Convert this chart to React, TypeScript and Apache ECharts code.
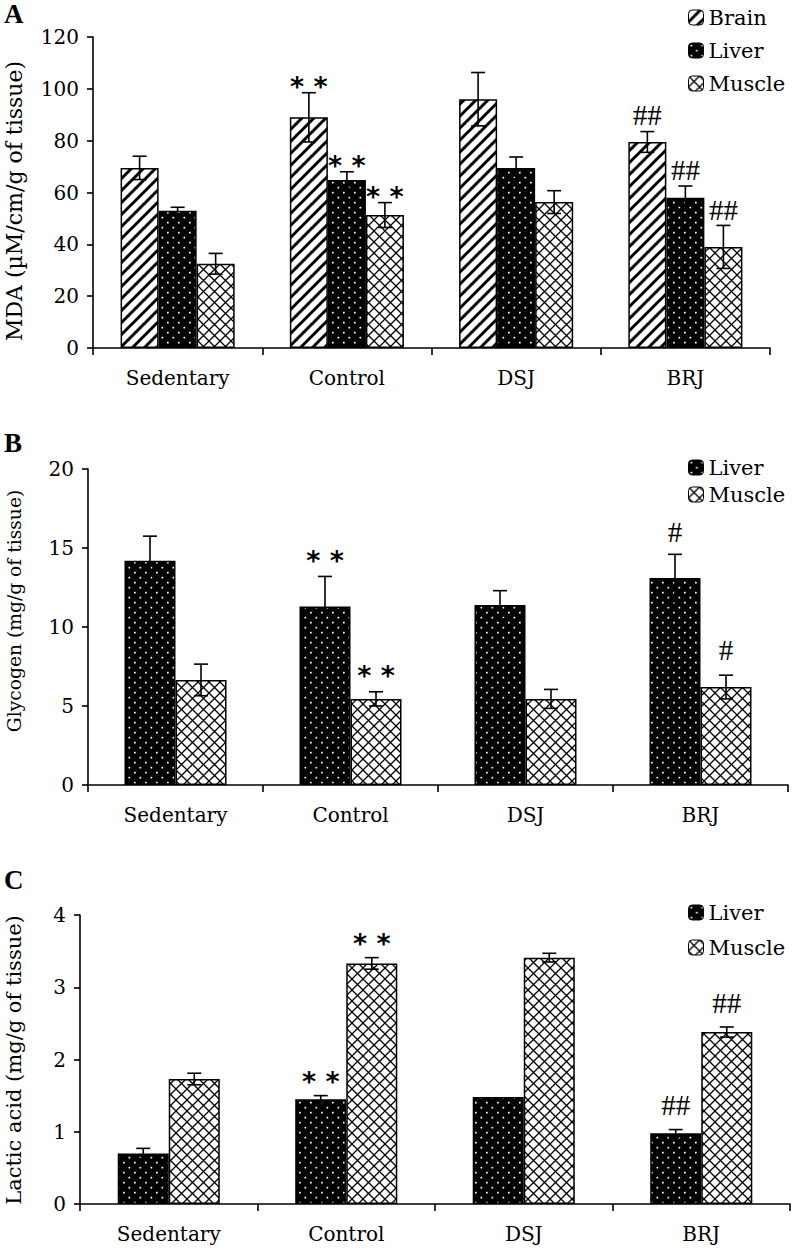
import React, { useEffect, useRef } from 'react';
import * as echarts from 'echarts';

const categories = ['Sedentary', 'Control', 'DSJ', 'BRJ'];

// Panel A: MDA (µM/cm/g of tissue)
const mdaBrain = [69.5, 89, 96, 79.5];
const mdaBrainSd = [4.5, 9.5, 10.3, 4];
const mdaLiver = [53, 64.8, 69.5, 58];
const mdaLiverSd = [1.3, 3.2, 4.2, 4.5];
const mdaMuscle = [32.5, 51.3, 56.3, 39];
const mdaMuscleSd = [4, 4.8, 4.4, 8.3];
const mdaMarks = ['', '**', '', '##'];

// Panel B: Glycogen (mg/g of tissue)
const glyLiver = [14.2, 11.3, 11.4, 13.1];
const glyLiverSd = [1.55, 1.9, 0.9, 1.5];
const glyMuscle = [6.65, 5.45, 5.45, 6.2];
const glyMuscleSd = [1.0, 0.45, 0.6, 0.75];
const glyMarks = ['', '**', '', '#'];

// Panel C: Lactic acid (mg/g of tissue)
const lacLiver = [0.7, 1.45, 1.48, 0.98];
const lacLiverSd = [0.07, 0.05, 0, 0.05];
const lacMuscle = [1.73, 3.33, 3.41, 2.38];
const lacMuscleSd = [0.08, 0.08, 0.06, 0.07];
const lacMarks = ['', '**', '', '##'];

const FONT = "'DejaVu Serif', serif";
const TIMES = "'Liberation Serif', serif";
const SANS = "'DejaVu Sans', sans-serif";

const svgUrl = (s: string) => 'data:image/svg+xml;charset=utf-8,' + encodeURIComponent(s);

const brainPattern = {
  image: svgUrl(
    "<svg xmlns='http://www.w3.org/2000/svg' width='12' height='12'><rect width='12' height='12' fill='white'/><path d='M-3,3 L3,-3 M0,12 L12,0 M9,15 L15,9' stroke='black' stroke-width='3'/></svg>"
  ),
  repeat: 'repeat',
  imageWidth: 12,
  imageHeight: 12,
};
const liverPattern = {
  image: svgUrl(
    "<svg xmlns='http://www.w3.org/2000/svg' width='11' height='10'><rect width='11' height='10' fill='black'/><rect x='2' y='1.8' width='1.7' height='1.7' fill='white'/><rect x='7.5' y='6.8' width='1.7' height='1.7' fill='white'/></svg>"
  ),
  repeat: 'repeat',
  imageWidth: 11,
  imageHeight: 10,
};
const musclePattern = {
  image: svgUrl(
    "<svg xmlns='http://www.w3.org/2000/svg' width='11' height='11'><rect width='11' height='11' fill='white'/><path d='M0,0 L11,11 M11,0 L0,11' stroke='black' stroke-width='1.3'/></svg>"
  ),
  repeat: 'repeat',
  imageWidth: 11,
  imageHeight: 11,
};

const barStyle = (pattern: any) => ({ color: pattern, borderColor: '#000', borderWidth: 1.5 });

// offStar / offHash: distance of the mark's glyph centre above the error-bar top
function errSeries(
  g: number,
  values: number[],
  sds: number[],
  marks: string[],
  i: number,
  n: number,
  gap: number,
  offStar: number,
  offHash: number
) {
  return {
    type: 'custom',
    xAxisIndex: g,
    yAxisIndex: g,
    z: 10,
    silent: true,
    data: values.map((v, k) => [k, v, sds[k]]),
    renderItem: (params: any, api: any) => {
      const ci = api.value(0);
      const v = api.value(1);
      const e = api.value(2);
      const band = api.size([1, 0])[0];
      const gw = band * (1 - gap);
      const bw = gw / n;
      const cx = api.coord([ci, 0])[0] - gw / 2 + (i + 0.5) * bw;
      const yT = api.coord([ci, v + e])[1];
      const yB = api.coord([ci, v - e])[1];
      const cap = 7;
      const st = { stroke: '#000', lineWidth: 1.6 };
      const children: any[] = [];
      if (e > 0) {
        children.push({ type: 'line', shape: { x1: cx, y1: yT, x2: cx, y2: yB }, style: st });
        children.push({ type: 'line', shape: { x1: cx - cap, y1: yT, x2: cx + cap, y2: yT }, style: st });
        children.push({ type: 'line', shape: { x1: cx - cap, y1: yB, x2: cx + cap, y2: yB }, style: st });
      }
      const m = marks[params.dataIndex];
      if (m) {
        const isStar = m.indexOf('*') >= 0;
        const size = isStar ? 27 : 29;
        const y = isStar ? yT - offStar + 0.2 * size : yT - offHash + 0.05 * size;
        children.push({
          type: 'text',
          x: cx,
          y,
          style: {
            text: isStar ? m.split('').join(' ') : m,
            fill: '#000',
            font: isStar ? `bold ${size}px ${SANS}` : `${size}px ${TIMES}`,
            textAlign: 'center',
            textVerticalAlign: 'middle',
          },
        });
      }
      return { type: 'group', children };
    },
  };
}

const axisLineStyle = { lineStyle: { color: '#000', width: 1.6 } };

function xAx(g: number) {
  return {
    type: 'category',
    gridIndex: g,
    data: categories,
    axisLine: { show: true, ...axisLineStyle },
    axisTick: { show: true, length: 7, lineStyle: { color: '#000', width: 1.6 } },
    axisLabel: { color: '#000', fontFamily: FONT, fontSize: 20, margin: 20 },
  };
}

function yAx(g: number, max: number, interval: number) {
  return {
    type: 'value',
    gridIndex: g,
    min: 0,
    max,
    interval,
    splitLine: { show: false },
    axisLine: { show: true, ...axisLineStyle },
    axisTick: { show: true, length: 6, lineStyle: { color: '#000', width: 1.6 } },
    axisLabel: { color: '#000', fontFamily: FONT, fontSize: 20, margin: 14 },
  };
}

const GAP_A = 0.326;
const GAP_B = 0.417;
const GAP_C = 0.425;

function barSeries(g: number, name: string, data: number[], pattern: any, gap: number) {
  return {
    type: 'bar',
    name,
    xAxisIndex: g,
    yAxisIndex: g,
    data,
    barGap: '0%',
    barCategoryGap: `${gap * 100}%`,
    itemStyle: barStyle(pattern),
  };
}

function legend(names: string[], top: number, gap: number) {
  return {
    data: names,
    orient: 'vertical',
    left: 683,
    top,
    itemWidth: 15,
    itemHeight: 15,
    itemGap: gap,
    selectedMode: false,
    textStyle: { color: '#000', fontFamily: FONT, fontSize: 21 },
    itemStyle: { borderColor: '#000', borderWidth: 1 },
  };
}

function titleText(text: string, x: number, y: number, size: number) {
  return {
    type: 'text',
    x,
    y,
    rotation: Math.PI / 2,
    style: {
      text,
      fill: '#000',
      font: `${size}px ${FONT}`,
      textAlign: 'center',
      textVerticalAlign: 'middle',
    },
  };
}

function panelLetter(text: string, x: number, y: number) {
  return {
    type: 'text',
    x,
    y,
    style: {
      text,
      fill: '#000',
      font: `bold 27px ${TIMES}`,
      textAlign: 'left',
      textVerticalAlign: 'top',
    },
  };
}

export default function App() {
  const ref = useRef<HTMLDivElement>(null);
  useEffect(() => {
    if (!ref.current) return;
    const chart = echarts.init(ref.current, undefined, { renderer: 'svg' });
    const option: any = {
      animation: false,
      backgroundColor: '#fff',
      grid: [
        { left: 93, right: 23, top: 37, height: 311 },
        { left: 88, right: 5, top: 469, height: 316 },
        { left: 80, right: 3, top: 915, height: 289 },
      ],
      xAxis: [xAx(0), xAx(1), xAx(2)],
      yAxis: [yAx(0, 120, 20), yAx(1, 20, 5), yAx(2, 4, 1)],
      legend: [
        legend(['Brain', 'Liver', 'Muscle'], 2, 12),
        legend(['Liver', 'Muscle'], 452, 6),
        legend(['Liver', 'Muscle'], 897, 14),
      ],
      series: [
        barSeries(0, 'Brain', mdaBrain, brainPattern, GAP_A),
        barSeries(0, 'Liver', mdaLiver, liverPattern, GAP_A),
        barSeries(0, 'Muscle', mdaMuscle, musclePattern, GAP_A),
        errSeries(0, mdaBrain, mdaBrainSd, mdaMarks, 0, 3, GAP_A, 12, 18),
        errSeries(0, mdaLiver, mdaLiverSd, mdaMarks, 1, 3, GAP_A, 12, 17),
        errSeries(0, mdaMuscle, mdaMuscleSd, mdaMarks, 2, 3, GAP_A, 12, 17),
        barSeries(1, 'Liver', glyLiver, liverPattern, GAP_B),
        barSeries(1, 'Muscle', glyMuscle, musclePattern, GAP_B),
        errSeries(1, glyLiver, glyLiverSd, glyMarks, 0, 2, GAP_B, 21, 24),
        errSeries(1, glyMuscle, glyMuscleSd, glyMarks, 1, 2, GAP_B, 22, 27),
        barSeries(2, 'Liver', lacLiver, liverPattern, GAP_C),
        barSeries(2, 'Muscle', lacMuscle, musclePattern, GAP_C),
        errSeries(2, lacLiver, lacLiverSd, lacMarks, 0, 2, GAP_C, 20, 26),
        errSeries(2, lacMuscle, lacMuscleSd, lacMarks, 1, 2, GAP_C, 20, 25),
      ],
      graphic: [
        panelLetter('A', 4, 0),
        panelLetter('B', 4, 429),
        panelLetter('C', 4, 866),
        titleText('MDA (µM/cm/g of tissue)', 14, 201, 22),
        titleText('Glycogen (mg/g of tissue)', 14, 611, 18.7),
        titleText('Lactic acid (mg/g of tissue)', 14, 1060, 21),
      ],
    };
    chart.setOption(option);
    return () => chart.dispose();
  }, []);
  return (
    <div
      ref={ref}
      style={{ position: 'absolute', left: 0, top: 0, width: 793, height: 1249, background: '#fff' }}
    />
  );
}
